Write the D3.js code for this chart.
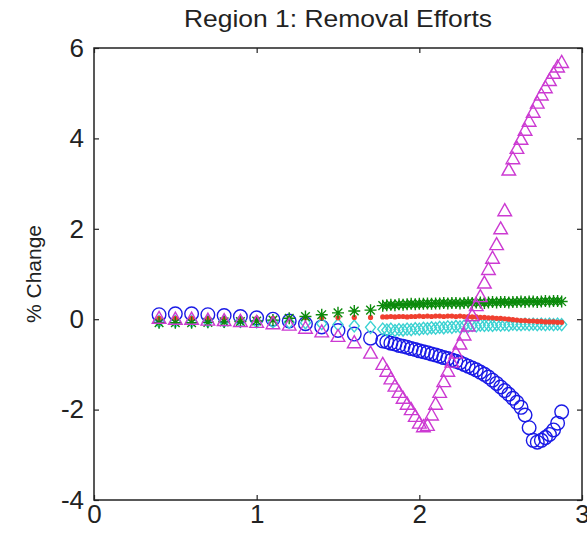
<!DOCTYPE html>
<html lang="en">
<head>
  <meta charset="UTF-8">
  <title>Region 1: Removal Efforts</title>
  <script src="https://d3js.org/d3.v7.min.js"></script>
  <style>
    body {
      background: #fff;
      margin: 0;
    }
    .title, .ylabel {
      font-family: 'Liberation Sans', Arial, Helvetica;
      fill: #222;
    }
    .tick text {
      font-family: 'Liberation Sans Narrow', 'Liberation Sans', Arial;
      font-size: 26px;
      fill: #222;
    }
  </style>
</head>
<body>
  <script>
    // x positions shared by every series
    var xVals = [0.4, 0.5, 0.6, 0.7, 0.8, 0.9, 1.0, 1.1, 1.2, 1.3, 1.4, 1.5, 1.6, 1.7,
      1.775, 1.8, 1.825, 1.85, 1.875, 1.9, 1.925, 1.95, 1.975, 2.0,
      2.025, 2.05, 2.075, 2.1, 2.125, 2.15, 2.175, 2.2, 2.225, 2.25,
      2.275, 2.3, 2.325, 2.35, 2.375, 2.4, 2.425, 2.45, 2.475, 2.5,
      2.525, 2.55, 2.575, 2.6, 2.625, 2.65, 2.675, 2.7, 2.725, 2.75,
      2.775, 2.8, 2.825, 2.85, 2.875];

    var blueCircles = [0.1, 0.12, 0.12, 0.1, 0.08, 0.06, 0.03, 0.0, -0.04, -0.1, -0.17, -0.25, -0.33, -0.42,
      -0.48, -0.5, -0.53, -0.55, -0.58, -0.6, -0.62, -0.65, -0.67, -0.7,
      -0.72, -0.74, -0.77, -0.79, -0.82, -0.85, -0.87, -0.9, -0.93, -0.96,
      -1.0, -1.04, -1.08, -1.12, -1.17, -1.22, -1.28, -1.35, -1.42, -1.5,
      -1.58, -1.66, -1.75, -1.84, -1.95, -2.12, -2.4, -2.68, -2.72, -2.68,
      -2.62, -2.55, -2.45, -2.3, -2.05];

    var cyanDiamonds = [-0.05, -0.05, -0.05, -0.05, -0.05, -0.05, -0.06, -0.06, -0.07, -0.08, -0.1, -0.12, -0.15, -0.18,
      -0.22, -0.24, -0.22, -0.25, -0.23, -0.24, -0.22, -0.23, -0.21, -0.22,
      -0.2, -0.21, -0.19, -0.2, -0.18, -0.19, -0.17, -0.18, -0.16, -0.17,
      -0.15, -0.16, -0.14, -0.15, -0.13, -0.14, -0.13, -0.14, -0.12, -0.13,
      -0.12, -0.13, -0.11, -0.12, -0.12, -0.11, -0.12, -0.11, -0.12, -0.11,
      -0.12, -0.11, -0.12, -0.11, -0.12];

    var redDots = [0.02, 0.02, 0.02, 0.02, 0.02, 0.02, 0.02, 0.02, 0.02, 0.03, 0.03, 0.03, 0.04, 0.04,
      0.05, 0.05, 0.06, 0.05, 0.06, 0.06, 0.05, 0.06, 0.06, 0.07,
      0.06, 0.07, 0.06, 0.07, 0.07, 0.06, 0.07, 0.07, 0.06, 0.07,
      0.06, 0.06, 0.05, 0.05, 0.04, 0.04, 0.03, 0.03, 0.02, 0.02,
      0.01, 0.0, -0.01, -0.02, -0.03, -0.03, -0.04, -0.04, -0.05, -0.05,
      -0.06, -0.06, -0.06, -0.07, -0.07];

    var greenStars = [-0.08, -0.08, -0.08, -0.07, -0.06, -0.05, -0.04, -0.02, 0.02, 0.06, 0.1, 0.14, 0.18, 0.2,
      0.3, 0.31, 0.32, 0.31, 0.33, 0.32, 0.33, 0.34, 0.33, 0.34,
      0.34, 0.35, 0.34, 0.35, 0.35, 0.36, 0.35, 0.36, 0.36, 0.35,
      0.36, 0.37, 0.36, 0.37, 0.37, 0.36, 0.37, 0.38, 0.37, 0.38,
      0.38, 0.37, 0.38, 0.38, 0.39, 0.38, 0.39, 0.39, 0.38, 0.39,
      0.4, 0.39, 0.4, 0.4, 0.39];

    var magentaTriangles = [0.02, 0.0, 0.0, -0.02, -0.03, -0.05, -0.07, -0.1, -0.13, -0.2, -0.28, -0.38, -0.52, -0.75,
      -1.0, -1.15, -1.32, -1.48, -1.62, -1.75, -1.88, -2.0, -2.15, -2.3,
      -2.38, -2.35, -2.12, -1.88, -1.62, -1.38, -1.15, -0.95, -0.75, -0.55,
      -0.35, -0.15, 0.08, 0.3, 0.5, 0.8, 1.1, 1.35, 1.65, 2.0,
      2.4, 3.3, 3.55, 3.78, 3.98, 4.18, 4.38, 4.58, 4.78, 4.96,
      5.12, 5.28, 5.44, 5.58, 5.68];

    var xTicks = [0, 1, 2, 3];
    var yTicks = [-4, -2, 0, 2, 4, 6];

    var width = 587, height = 537;
    var plotLeft = 94, plotRight = 582, plotTop = 48, plotBottom = 500;

    var svg = d3.select("body").append("svg")
      .attr("width", width)
      .attr("height", height);

    var x = d3.scaleLinear().domain([0, 3]).range([plotLeft, plotRight]);
    var y = d3.scaleLinear().domain([-4, 6]).range([plotBottom, plotTop]);

    // plain hyphen for negatives, like the original
    var tickText = function(d) { return String(d); };

    // markers
    var starPath = "M-6,0L6,0M0,-6L0,6M-4.3,-4.3L4.3,4.3M-4.3,4.3L4.3,-4.3";
    var triPath = "M0,-7L6.8,5L-6.8,5Z";
    var diaPath = "M0,-6L5,0L0,6L-5,0Z";

    var plot = svg.append("g");

    function drawSeries(values, color, shape) {
      var pts = plot.append("g")
        .selectAll("g")
        .data(values)
        .enter()
        .append("g")
        .attr("transform", function(d, i) {
          return "translate(" + x(xVals[i]) + "," + y(d) + ")";
        });
      if (shape === "circle") {
        pts.append("circle").attr("r", 6.8)
          .attr("fill", "none").attr("stroke", color).attr("stroke-width", 1.4);
      } else if (shape === "dot") {
        pts.append("circle").attr("r", 2.6).attr("fill", color);
      } else {
        pts.append("path").attr("d", shape)
          .attr("fill", "none").attr("stroke", color).attr("stroke-width", 1.4);
      }
    }

    drawSeries(blueCircles, "#1a1ae6", "circle");
    drawSeries(cyanDiamonds, "#3cd2d2", diaPath);
    drawSeries(redDots, "#f04030", "dot");
    drawSeries(greenStars, "#0b8a0b", starPath);
    drawSeries(magentaTriangles, "#cc3ad2", triPath);

    // axes with inward ticks, MATLAB box style
    svg.append("g")
      .attr("transform", "translate(0," + plotBottom + ")")
      .call(d3.axisBottom(x).tickValues(xTicks).tickFormat(tickText)
        .tickSizeInner(-5).tickSizeOuter(0).tickPadding(5))
      .call(function(g) { g.select(".domain").remove(); });

    svg.append("g")
      .attr("transform", "translate(0," + plotTop + ")")
      .call(d3.axisTop(x).tickValues(xTicks).tickSizeInner(-5).tickSizeOuter(0).tickFormat(""))
      .call(function(g) { g.select(".domain").remove(); });

    svg.append("g")
      .attr("transform", "translate(" + plotLeft + ",0)")
      .call(d3.axisLeft(y).tickValues(yTicks).tickFormat(tickText)
        .tickSizeInner(-5).tickSizeOuter(0).tickPadding(10))
      .call(function(g) { g.select(".domain").remove(); });

    svg.append("g")
      .attr("transform", "translate(" + plotRight + ",0)")
      .call(d3.axisRight(y).tickValues(yTicks).tickSizeInner(-5).tickSizeOuter(0).tickFormat(""))
      .call(function(g) { g.select(".domain").remove(); });

    svg.selectAll(".tick line").attr("stroke", "#222").attr("stroke-width", 1.2);

    svg.append("rect")
      .attr("x", plotLeft)
      .attr("y", plotTop)
      .attr("width", plotRight - plotLeft)
      .attr("height", plotBottom - plotTop)
      .attr("fill", "none")
      .attr("stroke", "#222")
      .attr("stroke-width", 1.5);

    svg.append("text")
      .classed("title", true)
      .attr("x", (plotLeft + plotRight) / 2)
      .attr("y", 27)
      .attr("text-anchor", "middle")
      .attr("textLength", 308)
      .attr("lengthAdjust", "spacingAndGlyphs")
      .style("font-size", "24px")
      .text("Region 1: Removal Efforts");

    svg.append("text")
      .classed("ylabel", true)
      .attr("transform", "translate(41," + ((plotTop + plotBottom) / 2) + ") rotate(-90)")
      .attr("text-anchor", "middle")
      .style("font-size", "21px")
      .text("% Change");
  </script>
</body>
</html>
